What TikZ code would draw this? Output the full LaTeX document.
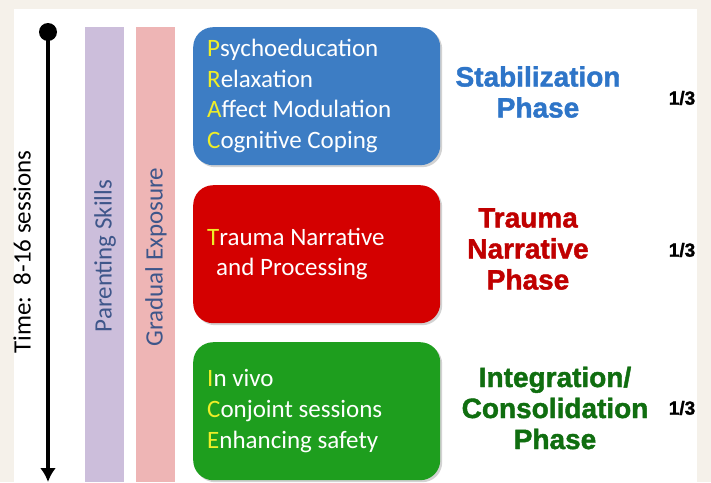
\documentclass[tikz,border=0pt]{standalone}
\usepackage{fontspec}
\setmainfont{Carlito}
\newfontfamily\phasefont[BoldFeatures={FakeBold=1.5}]{Liberation Sans}
\usetikzlibrary{arrows.meta, shadows}
\tikzset{>=latex}
\definecolor{mybeige}{RGB}{245, 241, 234}
\definecolor{mypurple}{RGB}{204, 190, 219}
\definecolor{mypink}{RGB}{238, 181, 181}
\definecolor{myblue}{RGB}{61, 125, 196}
\definecolor{myred}{RGB}{212, 0, 0}
\definecolor{mygreen}{RGB}{30, 158, 30}
\definecolor{bluetitle}{RGB}{46, 117, 200}
\definecolor{redtitle}{RGB}{192, 0, 0}
\definecolor{greentitle}{RGB}{16, 110, 16}
\definecolor{bartext}{RGB}{62, 86, 138}
\definecolor{firstletter}{RGB}{238, 238, 40}
\newcommand{\firstl}[1]{\textcolor{firstletter}{#1}}
\tikzset{
  phasebox/.style={rounded corners=20pt, minimum width=247pt, minimum height=138pt,
    anchor=north west, drop shadow={opacity=0.35, shadow xshift=2pt, shadow yshift=-2pt}},
  boxtext/.style={anchor=west, align=left, text=white, inner sep=0pt,
    font=\fontsize{25}{30.7}\selectfont},
  phasetitle/.style={align=center, inner sep=0pt, font=\phasefont\bfseries\fontsize{28}{31}\selectfont},
  third/.style={inner sep=0pt, font=\phasefont\bfseries\fontsize{19}{21}\selectfont},
  skillbar/.style={minimum width=39pt, minimum height=455pt, anchor=north west, inner sep=0pt},
  bartitle/.style={rotate=90, text=bartext, inner sep=0pt, font=\fontsize{25}{28}\selectfont}
}

\begin{document}
\begin{tikzpicture}[x=1pt, y=-1pt]
\fill[mybeige] (0,0) rectangle (711,482);
\fill[white] (14,9) rectangle (697,482);
\useasboundingbox (0,0) rectangle (711,482);
% time axis
\coordinate (tstart) at (48,32);
\coordinate (tend) at (48,482);
\draw[line width=4.5pt, -{Latex[length=14pt, width=16pt]}] (tstart) -- (tend);
\fill (tstart) circle (9);
\node[rotate=90, inner sep=0pt, font=\fontsize{25}{28}\selectfont] (time) at (22,252) {Time:\ \ 8-16 sessions};
% skills running through all phases
\node[skillbar, fill=mypurple] (parent) at (85,27) {};
\node[bartitle] (parenttxt) at (105,256) {Parenting Skills};
\node[skillbar, fill=mypink] (gradual) at (136,27) {};
\node[bartitle] (gradualtxt) at (156,257) {Gradual Exposure};
% phase boxes
\node[phasebox, fill=myblue] (stab) at (193,27) {};
\node[boxtext] (stabtxt) at (207,96) {\firstl{P}sychoeducation\\ \firstl{R}elaxation\\ \firstl{A}ffect Modulation\\ \firstl{C}ognitive Coping};
\node[phasebox, fill=myred] (trauma) at (193,185) {};
\node[boxtext] (traumatxt) at (207,254) {\firstl{T}rauma Narrative\\ \hspace{9pt}and Processing};
\node[phasebox, fill=mygreen] (integ) at (193,342) {};
\node[boxtext] (integtxt) at (207,411) {\firstl{I}n vivo\\ \firstl{C}onjoint sessions\\ \firstl{E}nhancing safety};
% phase names
\node[phasetitle, text=bluetitle] (stabname) at (538,92) {Stabilization\\ Phase};
\node[phasetitle, text=redtitle] (traumaname) at (528,249) {Trauma\\ Narrative\\ Phase};
\node[phasetitle, text=greentitle] (integname) at (555,408) {Integration/\\ Consolidation\\ Phase};
\node[third] (stabpart) at (682,98) {1/3};
\node[third] (traumapart) at (682,250) {1/3};
\node[third] (integpart) at (682,408) {1/3};
\end{tikzpicture}
\end{document}
